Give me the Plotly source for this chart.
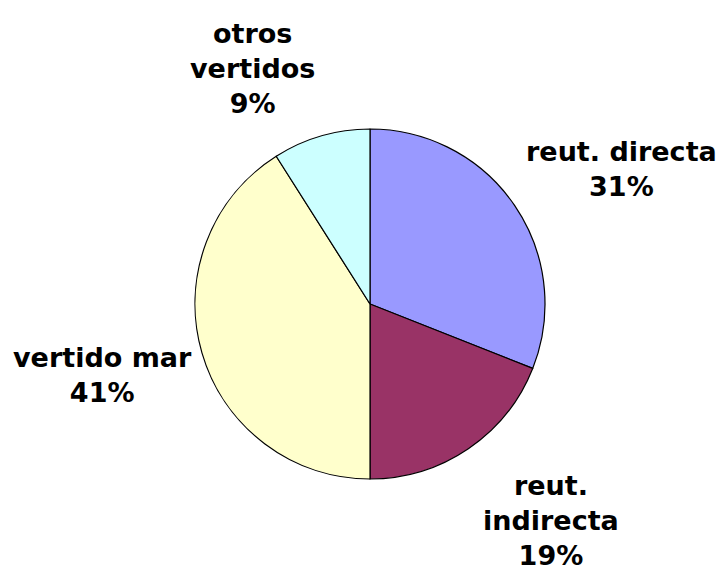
import plotly.graph_objects as go

categories = ["reut. directa", "reut. indirecta", "vertido mar", "otros vertidos"]
label_lines = ["reut. directa", "reut.<br>indirecta", "vertido mar", "otros<br>vertidos"]
values = [31, 19, 41, 9]
colors = ["#9999FF", "#993366", "#FFFFCC", "#CCFFFF"]

W, H = 724, 572
OFF = 8  # page body margin offset
cx, cy, r = 370 - OFF, 304 - OFF, 175

fig = go.Figure(go.Pie(
    labels=categories, values=values, sort=False, direction="clockwise",
    rotation=0, textinfo="none", hoverinfo="label+percent",
    marker=dict(colors=colors, line=dict(color="black", width=1.2)),
    domain=dict(x=[(cx - r) / W, (cx + r) / W], y=[(H - cy - r) / H, (H - cy + r) / H]),
    showlegend=False,
))

# label block centers (pixels)
label_pos = [(621, 169), (551, 520), (102, 375), (252, 68)]
total = sum(values)
for txt, v, (px, py) in zip(label_lines, values, label_pos):
    fig.add_annotation(
        x=(px - OFF) / W, y=1 - (py - OFF) / H, xref="paper", yref="paper",
        text=f"{txt}<br>{round(100 * v / total)}%", showarrow=False,
        xanchor="center", yanchor="middle", align="center",
        font=dict(family="DejaVu Sans", size=27, color="black", weight="bold"),
    )

fig.update_layout(width=W, height=H, margin=dict(l=0, r=0, t=0, b=0),
                  paper_bgcolor="white", plot_bgcolor="white")
fig.write_html("out.html")
